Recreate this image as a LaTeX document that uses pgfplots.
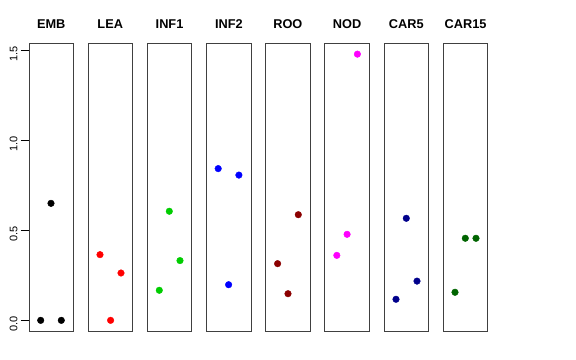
\documentclass[border=0pt]{standalone}
\usepackage{fontspec}
\setmainfont{Liberation Sans}
\usepackage{pgfplots}
\pgfplotsset{compat=1.18}
\definecolor{cgreen}{RGB}{0,205,0}
\definecolor{cdred}{RGB}{139,0,0}
\definecolor{cnavy}{RGB}{0,0,139}
\definecolor{cdgreen}{RGB}{0,100,0}
\definecolor{cmag}{RGB}{255,0,255}
\definecolor{cblue}{RGB}{0,0,255}
\definecolor{cred}{RGB}{255,0,0}
\pgfplotsset{panel/.style={
  scale only axis, width=44.5bp, height=287.7bp,
  xmin=0, xmax=44.5, ymin=-0.0592, ymax=1.5392,
  xtick=\empty, ytick=\empty,
  axis line style={black!75, line width=0.8bp},
  anchor=south west,
  title style={at={(0.5,1)}, anchor=base, yshift=9bp, inner sep=0pt,
    font=\bfseries\fontsize{12.8}{14}\selectfont},
  /pgf/number format/assume math mode=true,
}}
\pgfplotsset{pts/.style={only marks, mark=*, mark size=3.3bp, mark options={draw=#1, fill=#1}}}
\begin{document}
\begin{tikzpicture}
\useasboundingbox (0,0) rectangle (576bp,360bp);
\begin{axis}[panel, at={(29bp,29bp)}, title={EMB},
  ytick={0,0.5,1,1.5}, yticklabels={0.0,0.5,1.0,1.5},
  ytick pos=left,
  tick align=outside, major tick length=8bp,
  tick style={black, line width=0.8bp},
  yticklabel style={rotate=90, anchor=south, xshift=-3.5bp, font=\fontsize{11}{13}\selectfont}]
\addplot[pts=black] coordinates {(11.7,0) (32.3,0) (22,0.65)};
\end{axis}
\begin{axis}[panel, at={(88bp,29bp)}, title={LEA}]
\addplot[pts=cred] coordinates {(12,0.365) (33,0.263) (22.6,0)};
\end{axis}
\begin{axis}[panel, at={(147.3bp,29bp)}, title={INF1}]
\addplot[pts=cgreen] coordinates {(22,0.606) (32.7,0.332) (12,0.167)};
\end{axis}
\begin{axis}[panel, at={(206.6bp,29bp)}, title={INF2}]
\addplot[pts=cblue] coordinates {(11.6,0.843) (32.3,0.807) (22,0.198)};
\end{axis}
\begin{axis}[panel, at={(265.6bp,29bp)}, title={ROO}]
\addplot[pts=cdred] coordinates {(32.7,0.587) (12,0.315) (22.4,0.148)};
\end{axis}
\begin{axis}[panel, at={(324.8bp,29bp)}, title={NOD}]
\addplot[pts=cmag] coordinates {(32.6,1.479) (22.3,0.478) (12,0.361)};
\end{axis}
\begin{axis}[panel, at={(384bp,29bp)}, title={CAR5}]
\addplot[pts=cnavy] coordinates {(22.3,0.567) (33,0.218) (12,0.117)};
\end{axis}
\begin{axis}[panel, at={(443.3bp,29bp)}, title={CAR15}]
\addplot[pts=cdgreen] coordinates {(22,0.456) (32.7,0.456) (11.7,0.156)};
\end{axis}
\end{tikzpicture}
\end{document}
